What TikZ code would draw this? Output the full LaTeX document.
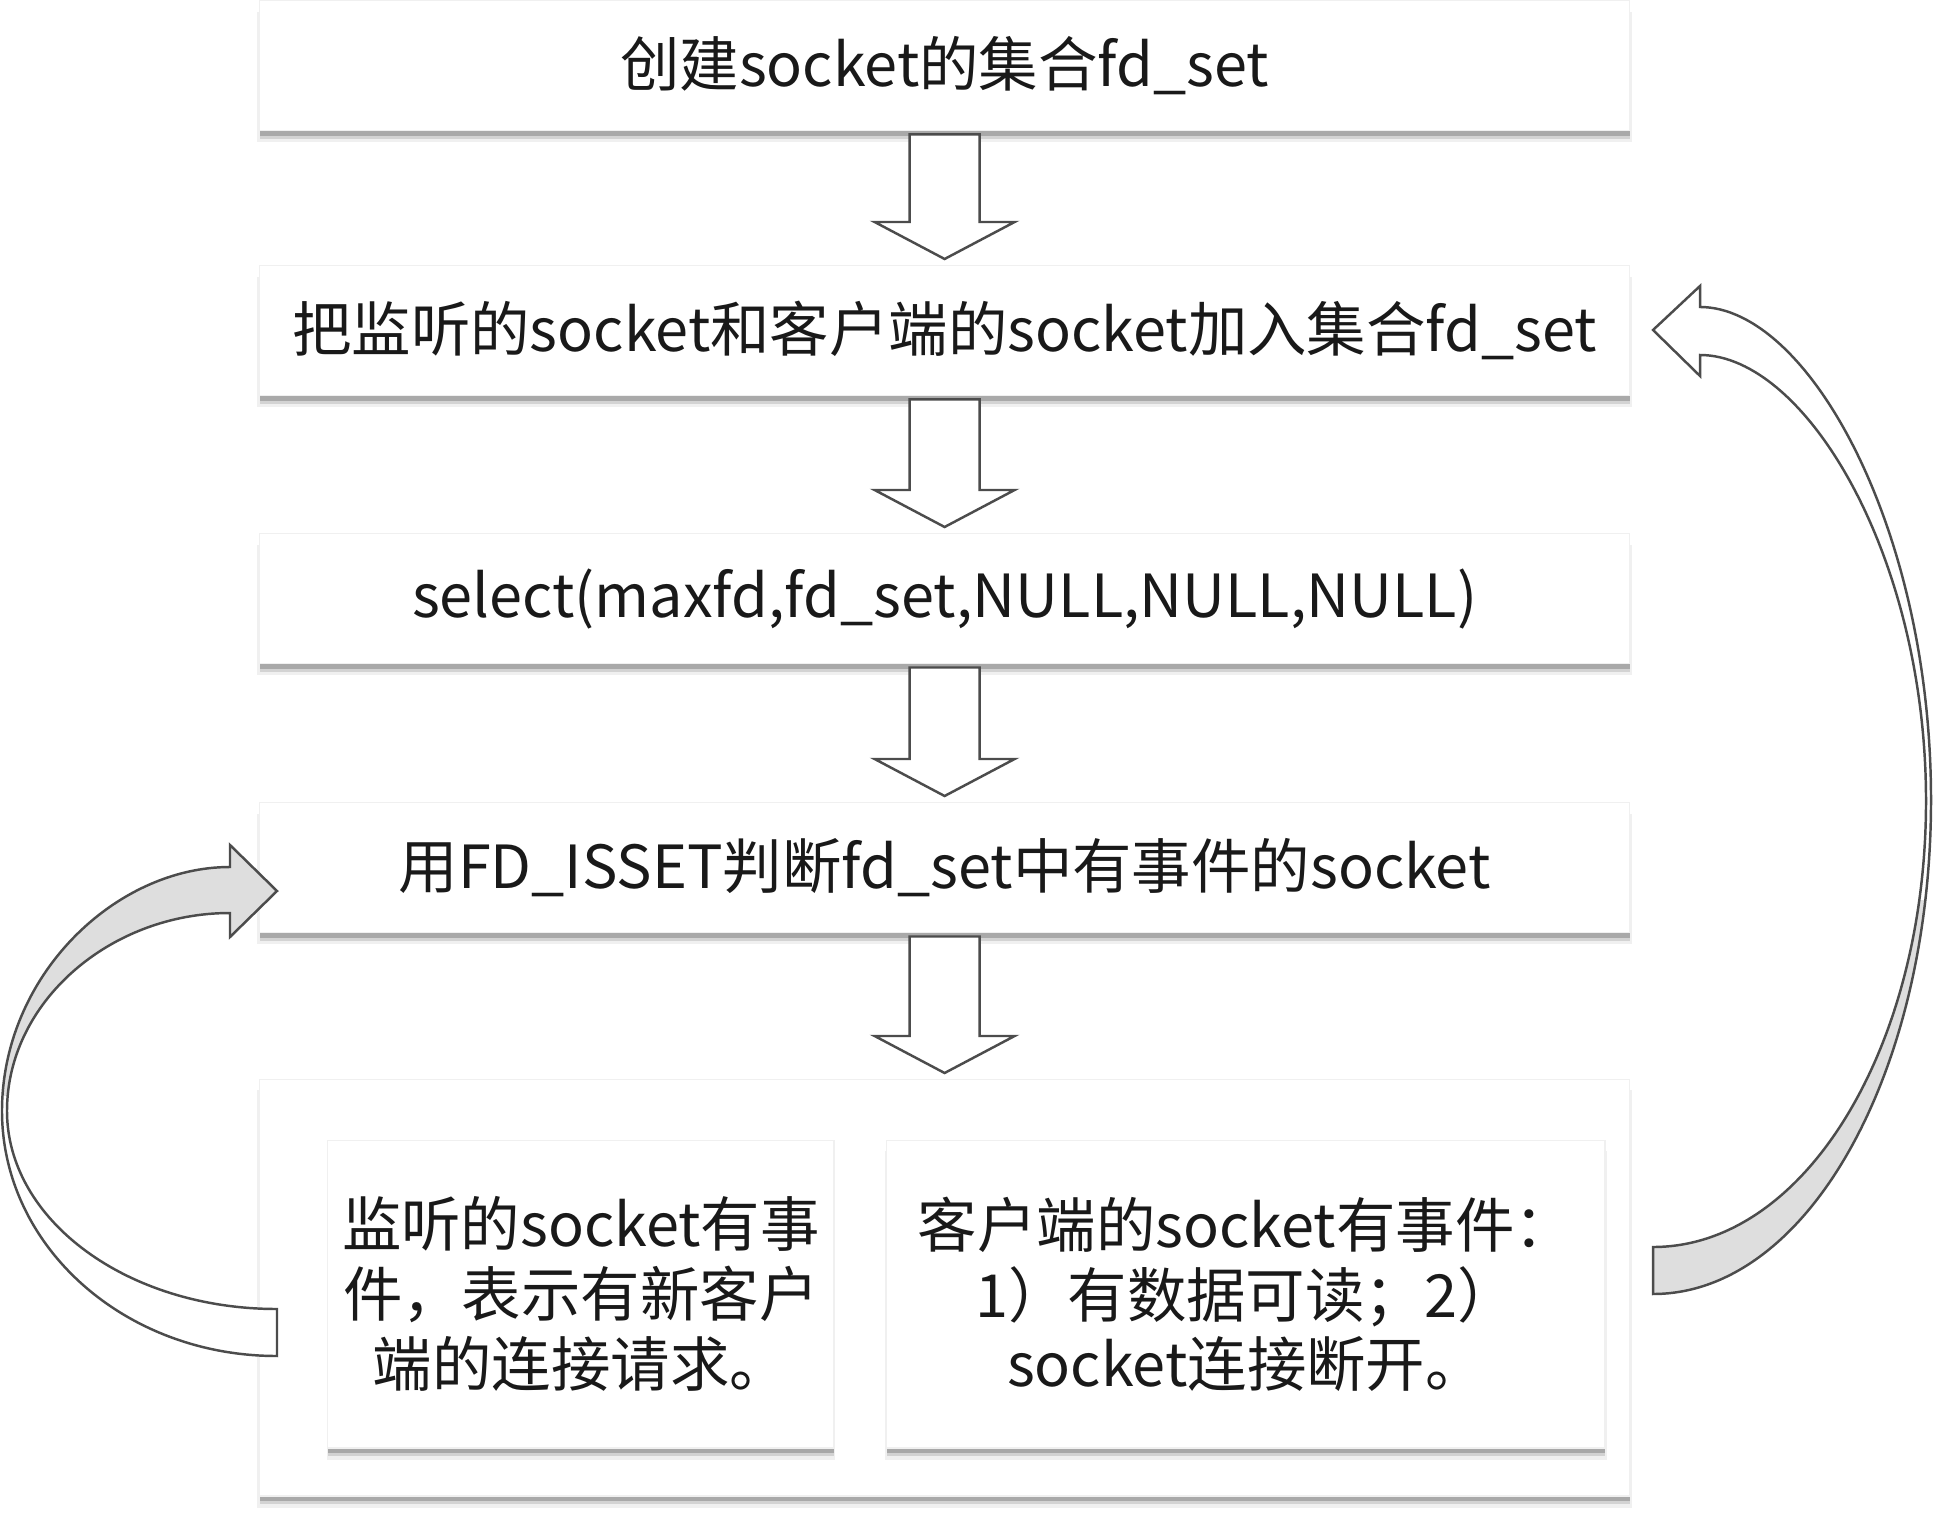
\documentclass[tikz,border=0pt]{standalone}
\usepackage{fontspec}
\setmainfont{Noto Sans CJK SC}
\usetikzlibrary{calc,shadows}
\tikzset{
  stepbox/.style={rectangle, draw=black!6, fill=white, inner sep=0pt, align=center,
    text=black!90, font=\fontsize{16.9pt}{19.9pt}\selectfont,
    minimum width=13.69cm, minimum height=1.30cm,
    drop shadow={shadow xshift=0pt, shadow yshift=-3.2pt, shadow scale=1.004, fill=black, opacity=0.06},
    drop shadow={shadow xshift=0pt, shadow yshift=-2.4pt, fill=black, opacity=0.12},
    drop shadow={shadow xshift=0pt, shadow yshift=-1.4pt, fill=black, opacity=0.2}},
  blockarrow/.style={draw=black!70, fill=white, line width=0.7pt, line join=miter},
  bendarrow/.style={draw=black!70, line width=0.7pt, line join=miter}
}
\newcommand\leftband{(277,1356) .. controls (124,1356) and (2,1246) .. (2,1111)
  .. controls (2,976) and (115,867) .. (230,867) -- (230,845) -- (277,891) -- (230,937)
  -- (230,913) .. controls (110,913) and (7,1002) .. (7,1111)
  .. controls (7,1220) and (127,1309) .. (277,1309) -- cycle}
\newcommand\rightband{(1653,1294) .. controls (1808,1294) and (1931,1072) .. (1931,800)
  .. controls (1931,528) and (1808,307) .. (1700,307) -- (1700,286) -- (1653,330) -- (1700,376)
  -- (1700,355) .. controls (1805,355) and (1926,555) .. (1926,801)
  .. controls (1926,1047) and (1805,1247) .. (1653,1247) -- cycle}

\begin{document}
\begin{tikzpicture}[x=0.01cm, y=-0.01cm]
  \useasboundingbox (0,0) rectangle (1934,1516);
  % steps of the select loop
  \node[stepbox, anchor=north west] (create) at (259,0) {创建socket的集合fd\_set};
  \node[stepbox, anchor=north west] (addset) at (259,265) {把监听的socket和客户端的socket加入集合fd\_set};
  \node[stepbox, anchor=north west] (select) at (259,533) {select(maxfd,fd\_set,NULL,NULL,NULL)};
  \node[stepbox, anchor=north west] (isset) at (259,802) {用FD\_ISSET判断fd\_set中有事件的socket};
  \node[stepbox, anchor=north west, minimum height=4.16cm] (events) at (259,1079) {};
  \node[stepbox, anchor=north west, minimum width=5.06cm, minimum height=3.07cm] (listen) at (327,1140)
    {监听的socket有事\\件，表示有新客户\\端的连接请求。};
  \node[stepbox, anchor=north west, minimum width=7.18cm, minimum height=3.07cm] (client) at (886,1140)
    {客户端的socket有事件：\\1）有数据可读；2）\\socket连接断开。};
  % hollow arrows between the steps
  \foreach \a/\b in {create/addset, addset/select, select/isset, isset/events}
    \draw[blockarrow] ($(\a.south)+(-35,3)$) -- ($(\a.south)+(35,3)$) -- ($(\b.north)+(35,-43)$)
      -- ($(\b.north)+(70,-43)$) -- ($(\b.north)+(0,-6)$) -- ($(\b.north)+(-70,-43)$)
      -- ($(\b.north)+(-35,-43)$) -- cycle;
  % new client: back to FD_ISSET
  \fill[white] \leftband;
  \begin{scope}
    \clip (0,0) rectangle (1934,1095);
    \fill[black!13] \leftband;
  \end{scope}
  \draw[bendarrow] \leftband;
  % client event: back to fd_set
  \fill[white] \rightband;
  \begin{scope}
    \clip (0,900) rectangle (1934,1516);
    \fill[black!13] \rightband;
  \end{scope}
  \draw[bendarrow] \rightband;
\end{tikzpicture}
\end{document}
